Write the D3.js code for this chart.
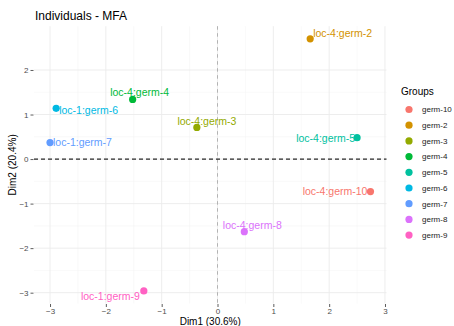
<!DOCTYPE html>
<html>
<head>
<meta charset="utf-8">
<script src="https://cdn.jsdelivr.net/npm/d3@7"></script>
<style>
  html, body { margin: 0; padding: 0; background: #fff; }
  svg { display: block; font-family: "Liberation Sans", Arial, sans-serif; }
</style>
</head>
<body>
<svg id="chart" width="454" height="326"></svg>
<script>
// Individuals on the first two MFA dimensions
const labels = ["loc-4:germ-10", "loc-4:germ-2", "loc-4:germ-3", "loc-4:germ-4", "loc-4:germ-5",
                "loc-1:germ-6", "loc-1:germ-7", "loc-4:germ-8", "loc-1:germ-9"];
const groups = ["germ-10", "germ-2", "germ-3", "germ-4", "germ-5", "germ-6", "germ-7", "germ-8", "germ-9"];
const dim1 = [2.74, 1.66, -0.37, -1.52, 2.50, -2.89, -3.00, 0.48, -1.32];
const dim2 = [-0.73, 2.70, 0.71, 1.34, 0.48, 1.14, 0.37, -1.63, -2.96];
const xTicks = [-3, -2, -1, 0, 1, 2, 3];
const yTicks = [-3, -2, -1, 0, 1, 2];
const groupColors = ["#F8766D", "#D39200", "#93AA00", "#00BA38", "#00C19F",
                     "#00B9E3", "#619CFF", "#DB72FB", "#FF61C3"];

// Repelled label placement (pixel offsets from each point)
const labelPlace = [
  { anchor: "end", dx: -3, dy: 0 },
  { anchor: "start", dx: 3, dy: -5 },
  { anchor: "middle", dx: 10, dy: -6.5 },
  { anchor: "middle", dx: 7, dy: -7 },
  { anchor: "end", dx: -2, dy: 0.5 },
  { anchor: "start", dx: 3, dy: 1.7 },
  { anchor: "start", dx: 3, dy: 0 },
  { anchor: "middle", dx: 8, dy: -6.7 },
  { anchor: "end", dx: -4, dy: 5.3 }
];

const panel = { left: 34, right: 386.5, top: 26.2, bottom: 303.5 };
const svg = d3.select("#chart");

function expand(ext) {
  const pad = (ext[1] - ext[0]) * 0.05;
  return [ext[0] - pad, ext[1] + pad];
}

const x = d3.scaleLinear().domain(expand(d3.extent(dim1))).range([panel.left, panel.right]);
const y = d3.scaleLinear().domain(expand(d3.extent(dim2))).range([panel.bottom, panel.top]);
const color = d3.scaleOrdinal().domain(groups).range(groupColors);

// Grid: minor lines at half units, major lines at integer ticks
const minorX = xTicks.slice(0, -1).map(v => v + 0.5);
const minorY = yTicks.slice(0, -1).map(v => v + 0.5);
const grid = svg.append("g");
grid.selectAll(".mx").data(minorX).join("line")
  .attr("x1", d => x(d)).attr("x2", d => x(d))
  .attr("y1", panel.top).attr("y2", panel.bottom)
  .attr("stroke", "#F3F3F3").attr("stroke-width", 0.5);
grid.selectAll(".my").data(minorY).join("line")
  .attr("y1", d => y(d)).attr("y2", d => y(d))
  .attr("x1", panel.left).attr("x2", panel.right)
  .attr("stroke", "#F3F3F3").attr("stroke-width", 0.5);
grid.selectAll(".gx").data(xTicks).join("line")
  .attr("x1", d => x(d)).attr("x2", d => x(d))
  .attr("y1", panel.top).attr("y2", panel.bottom)
  .attr("stroke", "#EBEBEB").attr("stroke-width", 0.9);
grid.selectAll(".gy").data(yTicks).join("line")
  .attr("y1", d => y(d)).attr("y2", d => y(d))
  .attr("x1", panel.left).attr("x2", panel.right)
  .attr("stroke", "#EBEBEB").attr("stroke-width", 0.9);

// Reference lines through the origin
svg.append("line")
  .attr("x1", x(0)).attr("x2", x(0)).attr("y1", panel.top).attr("y2", panel.bottom)
  .attr("stroke", "#9a9a9a").attr("stroke-width", 0.7).attr("stroke-dasharray", "3.5,3.5");
svg.append("line")
  .attr("y1", y(0)).attr("y2", y(0)).attr("x1", panel.left).attr("x2", panel.right)
  .attr("stroke", "#2a2a2a").attr("stroke-width", 1.3).attr("stroke-dasharray", "4,3");

// Axes
const xAxis = d3.axisBottom(x).tickValues(xTicks).tickSize(3).tickPadding(1)
  .tickFormat(d3.format("d"));
const gx = svg.append("g").attr("transform", `translate(0,${panel.bottom + 0.5})`).call(xAxis);
const yAxis = d3.axisLeft(y).tickValues(yTicks).tickSize(3).tickPadding(2)
  .tickFormat(d3.format("d"));
const gy = svg.append("g").attr("transform", `translate(${panel.left - 0.5},0)`).call(yAxis);
[gx, gy].forEach(g => {
  g.select(".domain").remove();
  g.selectAll(".tick line").attr("stroke", "#333").attr("stroke-width", 0.8);
  g.selectAll(".tick text").attr("fill", "#4D4D4D").attr("font-size", 8)
    .attr("font-family", "Liberation Sans, Arial, sans-serif");
});

// Points and labels
const idx = d3.range(labels.length);
svg.append("g").selectAll("circle").data(idx).join("circle")
  .attr("cx", i => x(dim1[i])).attr("cy", i => y(dim2[i]))
  .attr("r", 3.6).attr("fill", i => color(groups[i]));
svg.append("g").selectAll("text").data(idx).join("text")
  .attr("x", i => x(dim1[i]) + labelPlace[i].dx)
  .attr("y", i => y(dim2[i]) + labelPlace[i].dy)
  .attr("dy", "0.35em")
  .attr("text-anchor", i => labelPlace[i].anchor)
  .attr("font-size", 10.5)
  .attr("fill", i => color(groups[i]))
  .text(i => labels[i]);

// Titles
svg.append("text").attr("x", 35).attr("y", 19.5).attr("font-size", 12).attr("fill", "#000")
  .text("Individuals - MFA");
svg.append("text").attr("x", (panel.left + panel.right) / 2).attr("y", 325)
  .attr("text-anchor", "middle").attr("font-size", 10).attr("fill", "#000")
  .text("Dim1 (30.6%)");
svg.append("text")
  .attr("transform", `translate(15.5,${(panel.top + panel.bottom) / 2}) rotate(-90)`)
  .attr("text-anchor", "middle").attr("font-size", 10).attr("fill", "#000")
  .text("Dim2 (20.4%)");

// Legend
const legend = svg.append("g").attr("transform", "translate(401,0)");
legend.append("text").attr("x", 0).attr("y", 95).attr("font-size", 10).attr("fill", "#000")
  .text("Groups");
const item = legend.selectAll(".item").data(groups).join("g")
  .attr("transform", (d, i) => `translate(0,${109.5 + i * 15.7})`);
item.append("circle").attr("cx", 8).attr("cy", 0).attr("r", 3.6).attr("fill", d => color(d));
item.append("text").attr("x", 21).attr("y", 0).attr("dy", "0.35em")
  .attr("font-size", 8).attr("fill", "#1a1a1a").text(d => d);
</script>
</body>
</html>
